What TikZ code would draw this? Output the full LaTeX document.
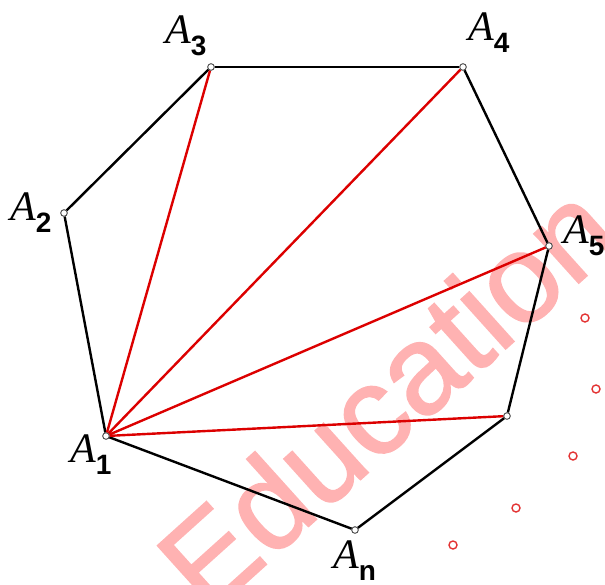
\documentclass[tikz,border=0pt]{standalone}
\usepackage{fontspec}
\setmainfont{Liberation Serif}
\setsansfont{Liberation Sans}
\newfontfamily\wmfont[FakeBold=1.3]{Liberation Sans}
\definecolor{wmark}{RGB}{255,178,178}
\definecolor{diagred}{RGB}{220,0,0}
\newcommand\vlab[1]{{\fontsize{42}{42}\selectfont\itshape A}\raisebox{-12pt}{\fontsize{28}{28}\selectfont\sffamily\bfseries #1}}
\tikzset{
  vtx/.style={circle,draw=black!70,fill=white,line width=0.8pt,inner sep=0pt,minimum size=6.5pt},
  edge/.style={black,line width=2.4pt},
  diag/.style={diagred,line width=2.4pt},
  dot/.style={circle,draw=diagred!80,fill=white,line width=1.4pt,inner sep=0pt,minimum size=8pt},
  lab/.style={anchor=base west,inner sep=0pt}
}
\begin{document}
\begin{tikzpicture}[x=1pt,y=-1pt]
\useasboundingbox (0,0) rectangle (605,584);
\begin{scope}
\clip (0,0) rectangle (605,584);
\node[rotate=42,text=wmark,font=\fontsize{126}{126}\selectfont\wmfont,inner sep=0pt] (wm) at (386,396) {Education};
\end{scope}
% vertices
\node[vtx] (v1) at (106,436) {};
\node[vtx] (v2) at (64,213) {};
\node[vtx] (v3) at (211,67) {};
\node[vtx] (v4) at (463,67) {};
\node[vtx] (v5) at (549,246) {};
\node[vtx] (v6) at (507,416) {};
\node[vtx] (vn) at (355,530) {};
% edges
\draw[edge] (v1) -- (v2);
\draw[edge] (v2) -- (v3);
\draw[edge] (v3) -- (v4);
\draw[edge] (v4) -- (v5);
\draw[edge] (v5) -- (v6);
\draw[edge] (v6) -- (vn);
\draw[edge] (vn) -- (v1);
% diagonals
\draw[diag] (v1) -- (v3);
\draw[diag] (v1) -- (v4);
\draw[diag] (v1) -- (v5);
\draw[diag] (v1) -- (v6);
% redraw vertices on top
\foreach \p in {v1,v2,v3,v4,v5,v6,vn}{\node[vtx] at (\p) {};}
% labels
\node[lab] (l3) at (165,43) {\vlab{3}};
\node[lab] (l4) at (468,40) {\vlab{4}};
\node[lab] (l2) at (10,220) {\vlab{2}};
\node[lab] (l5) at (563,243) {\vlab{5}};
\node[lab] (l1) at (70,462) {\vlab{1}};
\node[lab] (ln) at (333,568) {\vlab{n}};
% dots
\node[dot] (d1) at (585,318) {};
\node[dot] (d2) at (596,389) {};
\node[dot] (d3) at (573,456) {};
\node[dot] (d4) at (516,508) {};
\node[dot] (d5) at (453,545) {};
\end{tikzpicture}
\end{document}
